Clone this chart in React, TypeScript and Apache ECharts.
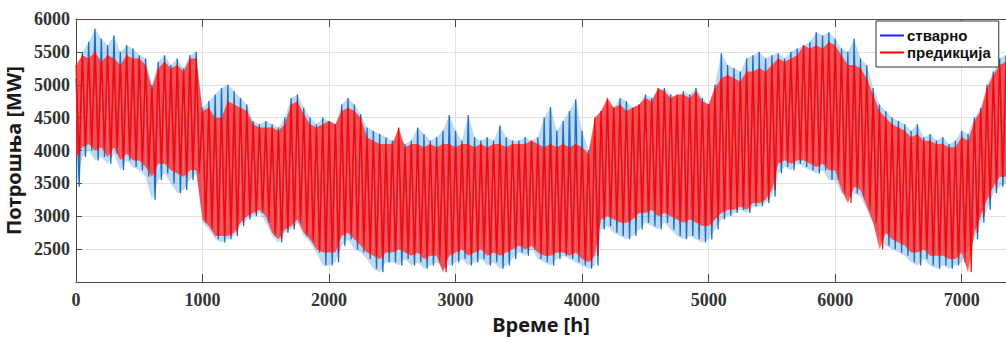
import React, { useEffect, useRef } from 'react';
import * as echarts from 'echarts';

// Sampling step (hours) of the envelope values
const STEP = 50;

// стварно (actual) — upper and lower envelope, one value every 50 h from 0 h to 7350 h
const actualHigh = [
  5100, 5500, 5650, 5850, 5700, 5600, 5750, 5500, 5600, 5550,
  5450, 5400, 5000, 5350, 5450, 5300, 5400, 5250, 5450, 5500,
  4650, 4750, 4850, 4950, 5000, 4900, 4800, 4700, 4450, 4400,
  4450, 4400, 4350, 4500, 4800, 4850, 4650, 4500, 4400, 4500,
  4450, 4400, 4700, 4800, 4700, 4550, 4350, 4300, 4250, 4200,
  4150, 4200, 4100, 4150, 4350, 4250, 4150, 4200, 4300, 4540,
  4300, 4150, 4540, 4200, 4150, 4200, 4150, 4380, 4200, 4150,
  4150, 4200, 4150, 4200, 4500, 4660, 4300, 4450, 4600, 4780,
  4300, 4000, 4300, 4600, 4700, 4650, 4800, 4750, 4650, 4700,
  4850, 4800, 4900, 4950, 4850, 4800, 4900, 4850, 4950, 4800,
  4700, 5000, 5480, 5300, 5250, 5200, 5400, 5450, 5500, 5400,
  5450, 5480, 5400, 5500, 5550, 5600, 5650, 5800, 5750, 5800,
  5700, 5550, 5500, 5700, 5400, 5300, 4950, 4700, 4600, 4500,
  4450, 4400, 4300, 4400, 4200, 4250, 4150, 4200, 4100, 4150,
  4300, 4250, 4500, 4650, 5000, 5200, 5400, 5450,
];
const actualLow = [
  3450, 3900, 4000, 3850, 3900, 3800, 3950, 3700, 3850, 3750,
  3700, 3600, 3250, 3550, 3650, 3500, 3350, 3400, 3550, 3650,
  2900, 2800, 2650, 2600, 2650, 2700, 2850, 2950, 3000, 3050,
  2900, 2700, 2600, 2750, 2800, 2900, 2700, 2600, 2450, 2250,
  2250, 2300, 2550, 2650, 2500, 2450, 2350, 2200, 2150, 2300,
  2300, 2250, 2350, 2250, 2300, 2200, 2250, 2300, 2200, 2250,
  2300, 2350, 2250, 2300, 2350, 2250, 2300, 2200, 2250, 2350,
  2450, 2400, 2500, 2350, 2300, 2250, 2350, 2400, 2350, 2300,
  2250, 2200, 2250, 2800, 2850, 2750, 2700, 2650, 2700, 2800,
  2900, 2850, 2800, 2900, 2800, 2700, 2650, 2700, 2650, 2600,
  2650, 2800, 2950, 3000, 3050, 3100, 3050, 3150, 3150, 3200,
  3300, 3650, 3750, 3700, 3800, 3750, 3700, 3650, 3700, 3550,
  3550, 3350, 3300, 3350, 3300, 3100, 2900, 2650, 2550, 2500,
  2450, 2400, 2300, 2250, 2350, 2250, 2200, 2250, 2200, 2250,
  2300, 2500, 2650, 2900, 3100, 3350, 3450, 3500,
];

// предикција (prediction) — upper and lower envelope, same sampling
const predHigh = [
  5300, 5450, 5400, 5500, 5350, 5450, 5400, 5300, 5450, 5400,
  5400, 5300, 4950, 5250, 5350, 5250, 5300, 5200, 5400, 5400,
  4600, 4650, 4500, 4500, 4750, 4700, 4650, 4600, 4400, 4350,
  4350, 4350, 4300, 4400, 4700, 4750, 4550, 4400, 4350, 4400,
  4450, 4400, 4600, 4650, 4600, 4500, 4200, 4150, 4100, 4100,
  4100, 4350, 4050, 4100, 4100, 4050, 4100, 4050, 4100, 4100,
  4050, 4100, 4100, 4050, 4100, 4050, 4100, 4100, 4050, 4100,
  4100, 4100, 4150, 4100, 4050, 4100, 4050, 4100, 4050, 4100,
  4050, 3950, 4500, 4600, 4800, 4650, 4700, 4600, 4650, 4700,
  4800, 4750, 4950, 4900, 4800, 4850, 4850, 4800, 4900, 4750,
  4700, 4950, 5100, 5150, 5100, 5050, 5200, 5200, 5250, 5200,
  5300, 5400, 5350, 5400, 5450, 5600, 5550, 5600, 5550, 5650,
  5600, 5450, 5300, 5300, 5250, 5100, 4850, 4600, 4500, 4400,
  4350, 4300, 4200, 4250, 4150, 4150, 4100, 4100, 4050, 4050,
  4200, 4150, 4450, 4600, 4950, 5150, 5300, 5350,
];
const predLow = [
  3900, 4050, 4100, 4000, 4050, 3900, 4050, 3850, 3950, 3850,
  3850, 3750, 3600, 3800, 3800, 3700, 3650, 3600, 3700, 3700,
  2950, 2850, 2700, 2700, 2700, 2750, 2900, 3000, 3050, 3100,
  3000, 2750, 2650, 2800, 2850, 2950, 2750, 2650, 2500, 2450,
  2450, 2450, 2700, 2750, 2650, 2550, 2450, 2400, 2350, 2450,
  2450, 2500, 2450, 2400, 2450, 2350, 2400, 2400, 2150, 2400,
  2450, 2500, 2400, 2450, 2500, 2400, 2450, 2400, 2450, 2500,
  2550, 2500, 2550, 2450, 2400, 2400, 2450, 2450, 2400, 2450,
  2350, 2300, 2400, 2950, 3000, 2950, 2900, 2900, 2950, 3050,
  3050, 3100, 3000, 3050, 3000, 2950, 2900, 2950, 2900, 2850,
  2850, 2950, 3050, 3100, 3100, 3150, 3100, 3200, 3200, 3250,
  3400, 3800, 3850, 3800, 3850, 3850, 3800, 3750, 3800, 3700,
  3700, 3400, 3200, 3450, 3400, 3150, 2900, 2500, 2750, 2650,
  2600, 2550, 2450, 2450, 2500, 2400, 2400, 2400, 2350, 2350,
  2450, 2150, 2750, 3000, 3250, 3450, 3600, 3600,
];

const X_MIN = 0;
const X_MAX = 7350;
const X_INTERVAL = 1000;
const Y_MIN = 2000;
const Y_MAX = 6000;
const Y_INTERVAL = 500;

const NAME_ACTUAL = 'стварно';
const NAME_PRED = 'предикција';

function zigzag(high: number[], low: number[]): number[][] {
  const out: number[][] = [];
  high.forEach((h, i) => {
    out.push([i * STEP, h]);
    out.push([i * STEP + STEP / 2, low[i]]);
  });
  return out;
}
function rows(high: number[], low: number[]): number[][] {
  return high.map((h, i) => [i * STEP, low[i], h]);
}

function bandSeries(id: string, high: number[], low: number[], color: string, opacity: number, z: number) {
  const data = rows(high, low);
  return {
    type: 'custom',
    id,
    name: id,
    silent: true,
    clip: true,
    z,
    data,
    encode: { x: 0, y: [1, 2] },
    renderItem: (params: any, api: any) => {
      const i = params.dataIndex;
      if (i >= data.length - 1) return null;
      const a = data[i];
      const b = data[i + 1];
      const pts = [
        api.coord([a[0], a[1]]),
        api.coord([a[0], a[2]]),
        api.coord([b[0], b[2]]),
        api.coord([b[0], b[1]]),
      ];
      return {
        type: 'polygon',
        shape: { points: pts },
        style: { fill: color, opacity, stroke: null },
      };
    },
  };
}

export default function App() {
  const ref = useRef<HTMLDivElement>(null);
  useEffect(() => {
    if (!ref.current) return;
    const chart = echarts.init(ref.current, undefined, { renderer: 'svg' });
    const axisColor = '#4a4a4a';
    const gridColor = '#e2e2e2';
    const tickFont = {
      fontFamily: 'Liberation Serif',
      fontWeight: 'bold' as const,
      fontSize: 18,
      color: '#333333',
      formatter: (v: number) => String(v),
    };
    const nameFont = {
      fontFamily: 'Noto Sans',
      fontWeight: 'bold' as const,
      fontSize: 20,
      color: '#1a1a1a',
    };
    chart.setOption({
      animation: false,
      backgroundColor: '#ffffff',
      grid: { left: 76, right: 0, top: 19, bottom: 57, containLabel: false, outerBoundsMode: 'none' },
      legend: {
        orient: 'vertical',
        left: 876,
        top: 21,
        padding: [6, 8, 6, 4],
        itemGap: 0,
        itemWidth: 24,
        itemHeight: 2,
        icon: 'rect',
        backgroundColor: '#ffffff',
        borderColor: '#333333',
        borderWidth: 1,
        borderRadius: 0,
        textStyle: {
          fontFamily: 'Liberation Sans',
          fontWeight: 'bold',
          fontSize: 15,
          color: '#111111',
          lineHeight: 17,
          padding: [0, 0, 0, -2],
        },
        data: [
          { name: NAME_ACTUAL, itemStyle: { color: '#1f1fff' } },
          { name: NAME_PRED, itemStyle: { color: '#ff0000' } },
        ],
      },
      xAxis: [
        {
          type: 'value',
          position: 'bottom',
          min: X_MIN,
          max: X_MAX,
          interval: X_INTERVAL,
          name: 'Време [h]',
          nameLocation: 'middle',
          nameGap: 32,
          nameTextStyle: nameFont,
          axisLine: { show: true, onZero: false, lineStyle: { color: axisColor, width: 1 } },
          axisTick: { show: true, inside: true, length: 8, lineStyle: { color: axisColor } },
          axisLabel: { ...tickFont, margin: 9, showMaxLabel: false },
          splitLine: { show: true, lineStyle: { color: gridColor, width: 1 } },
        },
        {
          type: 'value',
          position: 'top',
          min: X_MIN,
          max: X_MAX,
          interval: X_INTERVAL,
          axisLine: { show: true, onZero: false, lineStyle: { color: axisColor, width: 1 } },
          axisTick: { show: true, inside: true, length: 8, lineStyle: { color: axisColor } },
          axisLabel: { show: false },
          splitLine: { show: false },
        },
      ],
      yAxis: {
        type: 'value',
        min: Y_MIN,
        max: Y_MAX,
        interval: Y_INTERVAL,
        name: 'Потрошња [MW]',
        nameLocation: 'middle',
        nameGap: 46,
        nameTextStyle: nameFont,
        axisLine: { show: true, onZero: false, lineStyle: { color: axisColor, width: 1 } },
        axisTick: { show: true, inside: true, length: 6, lineStyle: { color: axisColor } },
        axisLabel: { ...tickFont, margin: 6, showMinLabel: false },
        splitLine: { show: true, lineStyle: { color: gridColor, width: 1 } },
      },
      series: [
        bandSeries('actual-band', actualHigh, actualLow, '#3a8ad0', 0.32, 1),
        {
          type: 'line',
          name: NAME_ACTUAL,
          data: zigzag(actualHigh, actualLow),
          symbol: 'none',
          showSymbol: false,
          clip: true,
          lineStyle: { color: '#1470c4', width: 1.3 },
          itemStyle: { color: '#1470c4' },
          z: 2,
        },
        bandSeries('pred-band', predHigh, predLow, '#ff1a1a', 0.72, 3),
        {
          type: 'line',
          name: NAME_PRED,
          data: zigzag(predHigh, predLow),
          symbol: 'none',
          showSymbol: false,
          clip: true,
          lineStyle: { color: '#ff0000', width: 1.2, opacity: 0.95 },
          itemStyle: { color: '#ff0000' },
          z: 4,
        },
      ],
    });
    return () => chart.dispose();
  }, []);
  return (
    <div
      ref={ref}
      style={{ position: 'absolute', left: 0, top: 0, width: 1006, height: 339 }}
    />
  );
}
